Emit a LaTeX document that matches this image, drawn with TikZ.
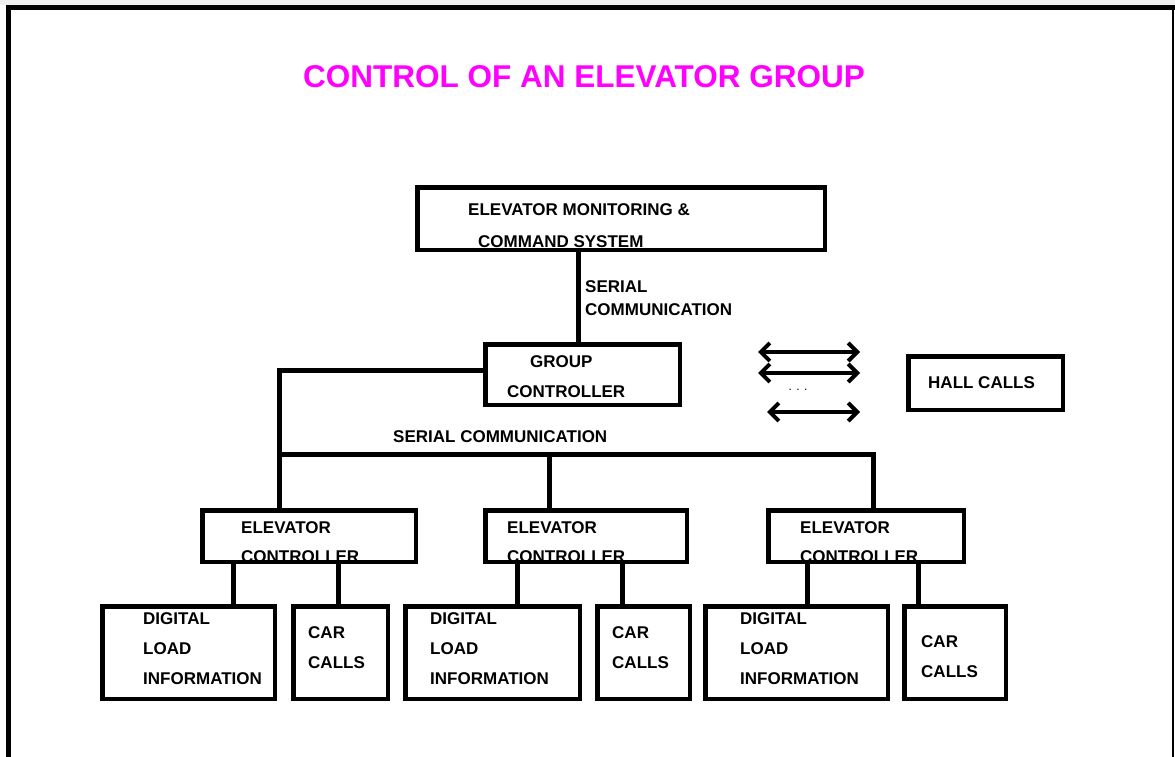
\documentclass[tikz,border=0pt]{standalone}
\usepackage{fontspec}
\setmainfont{Liberation Sans}
\usetikzlibrary{arrows.meta}
\definecolor{titlemag}{RGB}{255,0,255}
\tikzset{
  box/.style={draw, line width=4.5pt, rectangle, inner sep=0pt},
  conn/.style={line width=5pt},
  lbl/.style={anchor=west, inner sep=0pt, font=\bfseries\fontsize{17}{19}\selectfont},
  dblarrow/.style={line width=4pt, {Straight Barb[length=9pt,width=18pt,line width=4pt]}-{Straight Barb[length=9pt,width=18pt,line width=4pt]}},
}
\begin{document}
\begin{tikzpicture}[x=1pt,y=-1pt]
\useasboundingbox (0,0) rectangle (1175,757);
\fill[gray!12] (0,0) rectangle (1175,5);
% frame
\draw[line width=5pt] (8.5,757) -- (8.5,7.5) -- (1175,7.5);
\draw[line width=2pt] (1173,7.5) -- (1173,757);
% title
\node[inner sep=0pt, text=titlemag, font=\bfseries\fontsize{31.5}{34}\selectfont] (title) at (584,77) {CONTROL OF AN ELEVATOR GROUP};
% boxes
\node[box, minimum width=407.5pt, minimum height=62.5pt] (top) at (621,218.5) {};
\node[box, minimum width=194.5pt, minimum height=60.5pt] (group) at (582.5,374.5) {};
\node[box, minimum width=213.5pt, minimum height=51.5pt] (ec1) at (309,536) {};
\node[box, minimum width=201.5pt, minimum height=51.5pt] (ec2) at (586,536) {};
\node[box, minimum width=195.5pt, minimum height=51.5pt] (ec3) at (866,536) {};
\node[box, minimum width=172.5pt, minimum height=92.5pt] (d1) at (188.5,652.5) {};
\node[box, minimum width=94.5pt, minimum height=92.5pt] (c1) at (340.5,652.5) {};
\node[box, minimum width=174.5pt, minimum height=92.5pt] (d2) at (492.5,652.5) {};
\node[box, minimum width=92.5pt, minimum height=92.5pt] (c2) at (643.5,652.5) {};
\node[box, minimum width=182.5pt, minimum height=92.5pt] (d3) at (796.5,652.5) {};
\node[box, minimum width=101.5pt, minimum height=92.5pt] (c3) at (955,652.5) {};
\node[box, minimum width=154.5pt, minimum height=53.5pt] (hall) at (985.5,383) {};
% texts
\node[lbl] (t1) at (468,210) {ELEVATOR MONITORING \&};
\node[lbl] (t2) at (478,242) {COMMAND SYSTEM};
\node[lbl] (s1) at (585,287) {SERIAL};
\node[lbl] (s2) at (585,310) {COMMUNICATION};
\node[lbl] (g1) at (530,362) {GROUP};
\node[lbl] (g2) at (507,392) {CONTROLLER};
\node[lbl] (s3) at (393,437) {SERIAL COMMUNICATION};
\node[lbl] (h1) at (928,383) {HALL CALLS};
\node[lbl] (e1a) at (241,528) {ELEVATOR};
\node[lbl] (e1b) at (241,557) {CONTROLLER};
\node[lbl] (e2a) at (507,528) {ELEVATOR};
\node[lbl] (e2b) at (507,557) {CONTROLLER};
\node[lbl] (e3a) at (800,528) {ELEVATOR};
\node[lbl] (e3b) at (800,557) {CONTROLLER};
\node[lbl] (d1a) at (143,619) {DIGITAL};
\node[lbl] (d1b) at (143,649) {LOAD};
\node[lbl] (d1c) at (143,679) {INFORMATION};
\node[lbl] (d2a) at (430,619) {DIGITAL};
\node[lbl] (d2b) at (430,649) {LOAD};
\node[lbl] (d2c) at (430,679) {INFORMATION};
\node[lbl] (d3a) at (740,619) {DIGITAL};
\node[lbl] (d3b) at (740,649) {LOAD};
\node[lbl] (d3c) at (740,679) {INFORMATION};
\node[lbl] (c1a) at (308,633) {CAR};
\node[lbl] (c1b) at (308,663) {CALLS};
\node[lbl] (c2a) at (612,633) {CAR};
\node[lbl] (c2b) at (612,663) {CALLS};
\node[lbl] (c3a) at (921,642) {CAR};
\node[lbl] (c3b) at (921,672) {CALLS};
\node[inner sep=0pt, font=\fontsize{12}{12}\selectfont] (dots) at (798,390) {. . .};
% connectors
\draw[conn] (top.south -| 578,0) -- (group.north -| 578,0);
\draw[conn] (group.west |- 0,370) -| (ec1.north -| 279,0);
\coordinate (busL) at (279,454);
\coordinate (busM) at (549,454);
\draw[conn] (busL) -| (ec3.north -| 873,0);
\draw[conn] (busM) -- (ec2.north -| busM);
\draw[conn] (ec1.south -| 233,0) -- (d1.north -| 233,0);
\draw[conn] (ec1.south -| 338,0) -- (c1.north -| 338,0);
\draw[conn] (ec2.south -| 517,0) -- (d2.north -| 517,0);
\draw[conn] (ec2.south -| 622,0) -- (c2.north -| 622,0);
\draw[conn] (ec3.south -| 807,0) -- (d3.north -| 807,0);
\draw[conn] (ec3.south -| 918,0) -- (c3.north -| 918,0);
% hall call arrows
\coordinate (a1l) at (758,352); \coordinate (a1r) at (860,352);
\coordinate (a2l) at (758,373); \coordinate (a2r) at (860,373);
\coordinate (a3l) at (767,412); \coordinate (a3r) at (860,412);
\draw[dblarrow] (a1l) -- (a1r);
\draw[dblarrow] (a2l) -- (a2r);
\draw[dblarrow] (a3l) -- (a3r);
\end{tikzpicture}
\end{document}
